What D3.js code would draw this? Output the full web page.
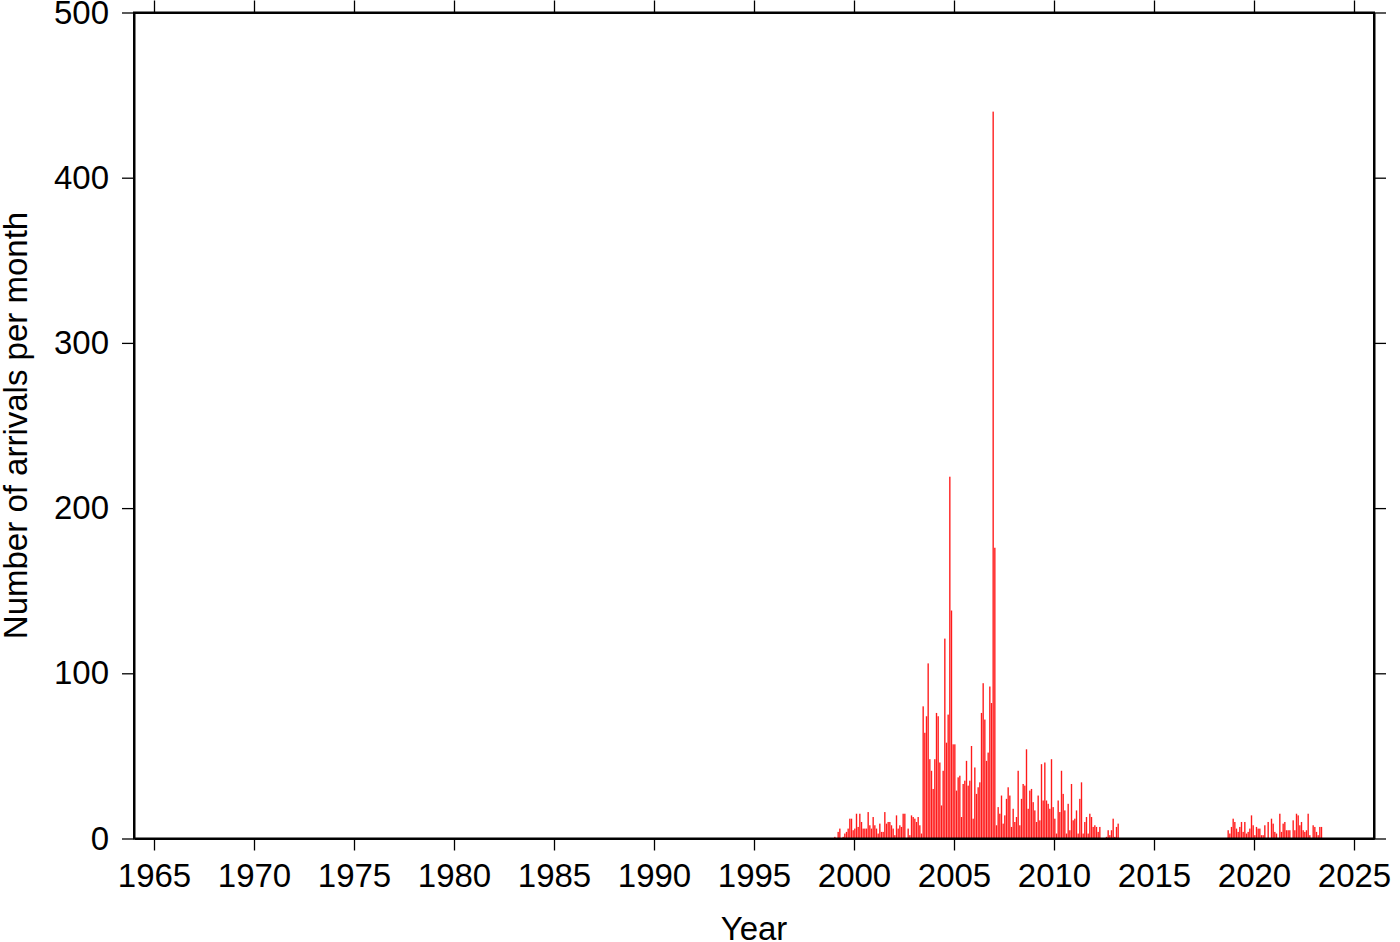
<!DOCTYPE html>
<html>
<head>
<meta charset="utf-8">
<script src="https://cdn.jsdelivr.net/npm/d3@7"></script>
<style>
  html, body { margin: 0; padding: 0; background: #fff; }
  svg { display: block; }
  text { font-family: "Liberation Sans", Arial, Helvetica, sans-serif; fill: #000; }
</style>
</head>
<body>
<svg id="chart" width="1400" height="942"></svg>
<script>
// ---- Data (monthly arrival counts) ----
const seriesAStart = [1999, 1];   // first month of segment A (year, month)
const seriesA = [
  // 1999
  1, 0, 4, 6, 0, 1, 3, 4, 6, 12, 12, 5,
  // 2000
  6, 15, 7, 15, 10, 6, 6, 6, 16, 8, 6, 13,
  // 2001
  8, 6, 3, 9, 4, 4, 16, 9, 10, 10, 8, 6,
  // 2002
  2, 14, 6, 8, 7, 15, 15, 0, 6, 2, 14, 13,
  // 2003
  12, 10, 13, 8, 3, 80, 64, 74, 106, 48, 41, 30,
  // 2004
  48, 76, 74, 46, 20, 41, 121, 58, 75, 219, 138, 57,
  // 2005
  57, 29, 37, 38, 13, 33, 35, 47, 32, 35, 56, 12,
  // 2006
  43, 27, 31, 34, 76, 94, 72, 47, 52, 92, 82, 440,
  // 2007
  176, 8, 19, 15, 26, 9, 14, 24, 31, 26, 7, 18,
  // 2008
  10, 13, 41, 8, 24, 33, 32, 54, 18, 29, 30, 22,
  // 2009
  17, 10, 26, 11, 45, 23, 46, 23, 21, 18, 48, 19,
  // 2010
  12, 3, 23, 16, 41, 27, 17, 3, 21, 5, 33, 11,
  // 2011
  12, 17, 3, 24, 34, 3, 10, 13, 3, 15, 13, 7,
  // 2012
  8, 7, 4, 7, 0, 0, 0, 1, 5, 2, 5, 12,
  // 2013
  1, 7, 9
];
const seriesBStart = [2018, 9];
const seriesB = [
  // 2018 Sep-Dec
  5, 3, 7, 12,
  // 2019
  10, 6, 4, 7, 10, 4, 10, 3, 4, 6, 14, 8,
  // 2020
  2, 7, 6, 6, 2, 2, 8, 0, 10, 0, 12, 9,
  // 2021
  4, 3, 0, 15, 4, 9, 10, 5, 5, 5, 0, 11,
  // 2022
  5, 15, 14, 8, 10, 5, 4, 5, 15, 2, 0, 8,
  // 2023
  7, 4, 2, 7, 7
];
const xTicks = [1965, 1970, 1975, 1980, 1985, 1990, 1995, 2000, 2005, 2010, 2015, 2020, 2025];
const yTicks = [0, 100, 200, 300, 400, 500];
const xDomain = [1964, 2026];
const yDomain = [0, 500];
const xTitle = "Year";
const yTitle = "Number of arrivals per month";

// ---- Build records ----
function toRecords(start, vals) {
  return vals.map((v, i) => {
    const idx = (start[1] - 1) + i;
    return { t: start[0] + idx / 12, v: v };
  });
}
const records = toRecords(seriesAStart, seriesA).concat(toRecords(seriesBStart, seriesB));

// ---- Layout ----
const L = 134, R = 1374, T = 12.5, B = 838.5;
const svg = d3.select("#chart");
const x = d3.scaleLinear().domain(xDomain).range([L, R]);
const y = d3.scaleLinear().domain(yDomain).range([B, T]);
const monthW = x(xDomain[0] + 1 / 12) - x(xDomain[0]);

// Bars
svg.append("g")
  .selectAll("rect")
  .data(records.filter(d => d.v > 0))
  .join("rect")
  .attr("x", d => x(d.t) + 0.15)
  .attr("width", monthW - 0.3)
  .attr("y", d => y(d.v))
  .attr("height", d => y(0) - y(d.v))
  .attr("fill", "#ff1a1a");

// Axes
const fontSize = 33;
const tickLen = 12;
function styleAxis(g) {
  g.select(".domain").attr("stroke", "#000").attr("stroke-width", 2);
  g.selectAll(".tick line").attr("stroke", "#000").attr("stroke-width", 1.3);
  g.selectAll(".tick text").attr("font-size", fontSize).attr("font-family", '"Liberation Sans", Arial, sans-serif');
}

const xBottom = svg.append("g").attr("transform", `translate(0,${B})`)
  .call(d3.axisBottom(x).tickValues(xTicks).tickFormat(d3.format("d")).tickSizeInner(tickLen).tickSizeOuter(0).tickPadding(13));
styleAxis(xBottom);

const xTop = svg.append("g").attr("transform", `translate(0,${T})`)
  .call(d3.axisTop(x).tickValues(xTicks).tickFormat("").tickSizeInner(tickLen).tickSizeOuter(0));
styleAxis(xTop);

const yLeft = svg.append("g").attr("transform", `translate(${L},0)`)
  .call(d3.axisLeft(y).tickValues(yTicks).tickFormat(d3.format("d")).tickSizeInner(tickLen).tickSizeOuter(0).tickPadding(13));
styleAxis(yLeft);

const yRight = svg.append("g").attr("transform", `translate(${R},0)`)
  .call(d3.axisRight(y).tickValues(yTicks).tickFormat("").tickSizeInner(tickLen).tickSizeOuter(0));
styleAxis(yRight);

// Frame
svg.append("rect")
  .attr("x", L).attr("y", T)
  .attr("width", R - L).attr("height", B - T)
  .attr("fill", "none").attr("stroke", "#000").attr("stroke-width", 2);

// Titles
svg.append("text")
  .attr("x", (L + R) / 2)
  .attr("y", 940)
  .attr("text-anchor", "middle")
  .attr("font-size", fontSize)
  .text(xTitle);

svg.append("text")
  .attr("transform", `translate(27,${(T + B) / 2}) rotate(-90)`)
  .attr("text-anchor", "middle")
  .attr("font-size", fontSize)
  .text(yTitle);
</script>
</body>
</html>
